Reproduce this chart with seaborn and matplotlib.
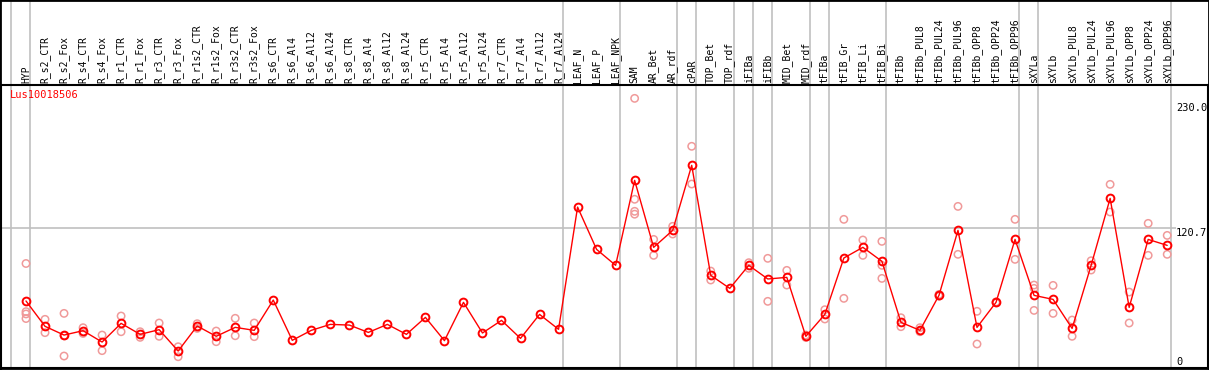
import numpy as np
import pandas as pd
import seaborn as sns
import matplotlib.pyplot as plt
import matplotlib.transforms as mtransforms
from matplotlib.patches import Rectangle

# sample labels, in the order shown on the chart
labels = ['HYP',
          'R_s2_CTR', 'R_s2_Fox', 'R_s4_CTR', 'R_s4_Fox', 'R_r1_CTR', 'R_r1_Fox',
          'R_r3_CTR', 'R_r3_Fox', 'R_r1s2_CTR', 'R_r1s2_Fox', 'R_r3s2_CTR', 'R_r3s2_Fox',
          'R_s6_CTR', 'R_s6_Al4', 'R_s6_Al12', 'R_s6_Al24', 'R_s8_CTR', 'R_s8_Al4',
          'R_s8_Al12', 'R_s8_Al24', 'R_r5_CTR', 'R_r5_Al4', 'R_r5_Al12', 'R_r5_Al24',
          'R_r7_CTR', 'R_r7_Al4', 'R_r7_Al12', 'R_r7_Al24',
          'LEAF_N', 'LEAF_P', 'LEAF_NPK',
          'SAM', 'AR_Bet', 'AR_rdf', 'cPAR', 'TOP_Bet', 'TOP_rdf', 'iFIBa', 'iFIBb',
          'MID_Bet', 'MID_rdf', 'tFIBa', 'tFIB_Gr', 'tFIB_Li', 'tFIB_Bi',
          'tFIBb', 'tFIBb_PUL8', 'tFIBb_PUL24', 'tFIBb_PUL96', 'tFIBb_OPP8',
          'tFIBb_OPP24', 'tFIBb_OPP96',
          'sXYLa',
          'sXYLb', 'sXYLb_PUL8', 'sXYLb_PUL24', 'sXYLb_PUL96', 'sXYLb_OPP8',
          'sXYLb_OPP24', 'sXYLb_OPP96']

# number of samples in each group (grey separators between groups)
group_sizes = [1, 28, 3, 3, 1, 2, 1, 1, 2, 1, 3, 7, 1, 7]

# mean expression per sample
means = [57.3, 35.2, 27.6, 31.4, 21.5, 37.8, 28.2, 32.3, 13.7, 35.5, 26.5, 34.3, 31.7,
         58.1, 23.0, 31.7, 36.9, 36.3, 29.9, 36.9, 28.2, 43.0, 22.7, 56.1, 29.4,
         40.4, 24.7, 45.6, 32.6,
         139.2, 102.3, 88.4,
         162.5, 104.1, 118.9, 175.6, 79.7, 68.3, 88.4, 76.5, 77.9, 26.5, 45.6, 94.8,
         104.1, 91.9,
         38.7, 31.7, 62.2, 118.9, 34.3, 56.1, 111.0,
         62.2,
         58.7, 33.4, 88.4, 146.8, 51.7, 111.0, 105.8]

# replicate values per sample (empty where only the mean is shown)
replicates = [[90, 48, 46, 42], [41.3, 29.7], [46.5, 27.0, 9.3], [34, 29], [27.6, 14],
              [44.2, 30.5], [30.5, 25.6], [38.1, 26.5], [17.4, 8.7], [37.5, 33.4],
              [31.1, 21.8], [42.2, 27], [38.1, 26.2],
              [], [], [], [], [], [], [], [], [], [], [], [], [], [], [], [],
              [], [], [],
              [234, 146, 135.5, 133], [111, 97.1], [122.4, 115.7], [192.2, 159.3],
              [83.4, 75.6], [], [90.7, 85.8], [94.5, 57], [84, 71.2], [27.6, 25.5],
              [49.7, 41.6], [128.5, 59.6], [110.5, 97.1], [109.3, 88.4, 77],
              [42.7, 34.9], [34, 30.5], [63, 61.5], [139.8, 98], [48.3, 19.8],
              [56.5, 55.7], [128.5, 93.6],
              [71.2, 68.3, 49.1],
              [70.9, 46.5], [40.7, 26.5], [92.4, 84.3], [159, 134.9], [65.1, 38.1],
              [125, 97.1], [114.5, 98]]

gene_name = 'Lus10018506'
y_ticks = [230.0, 120.7, 0]
y_tick_labels = ['230.0', '120.7', '0']

assert len(labels) == len(means) == len(replicates) == sum(group_sizes)

mean_df = pd.DataFrame({'pos': np.arange(len(labels)), 'value': means})
rep_rows = []
for i, reps in enumerate(replicates):
    for v in reps:
        rep_rows.append({'pos': i, 'value': v})
rep_df = pd.DataFrame(rep_rows)

sns.set_theme(style='white')
plt.rcParams['font.family'] = ['DejaVu Sans Mono']

W, H = 1209, 370
fig = plt.figure(figsize=(W / 100, H / 100), dpi=100)
# plot box in pixels: x 1..1208, y 85..368
ax = fig.add_axes([1 / W, 2 / H, 1207 / W, 283 / H])

# x scale: first column at 26 px, 19.02 px per column
step = 19.02
xmin = -25 / step
ax.set_xlim(xmin, xmin + 1207 / step)
# y scale: 0 at 366.7 px, 1.1467 px per unit
ppu = 1.1467
ax.set_ylim(-(368 - 366.7) / ppu, (366.7 - 85) / ppu)

# group separators, running up through the label area
off = 4 / step
bounds = [-1] + list(np.cumsum(group_sizes) - 1)
for b in bounds:
    ax.axvline(b + off, ymin=0, ymax=1 + 85 / 283, color='#c0c0c0', lw=1.2,
               clip_on=False, zorder=1)
ax.hlines(120.7, xmin, (1176 - 26) / step, color='#c0c0c0', lw=1.2, zorder=1)

# replicates and mean line
sns.scatterplot(data=rep_df, x='pos', y='value', ax=ax, marker='o', s=28,
                facecolor='none', edgecolor='#f09a9a', linewidth=1.1, zorder=2)
sns.lineplot(data=mean_df, x='pos', y='value', ax=ax, color='#ff0000', lw=1,
             marker='o', markersize=5.6, markerfacecolor='none',
             markeredgecolor='#ff0000', markeredgewidth=1.4, zorder=3)

ax.set_xticks([])
ax.set_yticks([])
ax.set_xlabel('')
ax.set_ylabel('')
for s in ax.spines.values():
    s.set_color('black')
    s.set_linewidth(1.5)

# column labels above the plot
trans = mtransforms.blended_transform_factory(ax.transData, ax.transAxes)
for i, lab in enumerate(labels):
    ax.text(i, 1 + 2 / 283, lab, rotation=90, ha='center', va='bottom',
            fontsize=7, color='black', transform=trans, clip_on=False)

# right hand value labels
xr = (1176 - 26) / step
for v, t in zip(y_ticks, y_tick_labels):
    ax.text(xr, v, t, ha='left', va='bottom' if v == 0 else 'top',
            fontsize=7.5, color='black')

ax.text((10 - 26) / step, (366.7 - 90) / ppu, gene_name, ha='left', va='top',
        fontsize=7.5, color='#ff0000')

# outer frame
fig.patches.append(Rectangle((0, 0), 1, 1, transform=fig.transFigure, fill=False,
                             edgecolor='black', lw=2, zorder=10))

fig.savefig('out.png', dpi=100)
plt.close()
